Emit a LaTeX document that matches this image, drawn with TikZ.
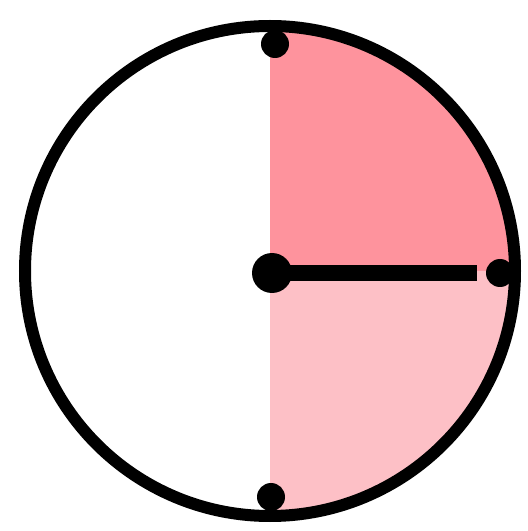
\documentclass[tikz,border=0pt]{standalone}
\usepackage{tikz}

\definecolor{quarterpink}{RGB}{254,147,157}
\definecolor{lightpink}{RGB}{253,192,198}

\begin{document}
\begin{tikzpicture}[x=1pt, y=1pt]
\tikzstyle{dot} = [circle, fill=black, inner sep=0pt, minimum size=28pt]
\tikzstyle{hub} = [circle, fill=black, inner sep=0pt, minimum size=40pt]
\tikzstyle{hand} = [line width=16pt]

\useasboundingbox (0,0) rectangle (528,531);
\fill[white] (0,0) rectangle (528,531);

% shaded quarters
\fill[quarterpink] (270,260) -- (270,505) arc (90:0:245) -- cycle;
\fill[lightpink] (270,260) -- (515,260) arc (0:-90:245) -- cycle;

% face
\draw[line width=12pt] (270,260) circle (245);

\node[dot] (twelve) at (275,487) {};
\node[dot] (three) at (500,258) {};
\node[dot] (six) at (271,34) {};
\node[hub] (centre) at (272,258) {};
\coordinate (tip) at (477,258);

\draw[hand] (centre.center) -- (tip);
\end{tikzpicture}
\end{document}
